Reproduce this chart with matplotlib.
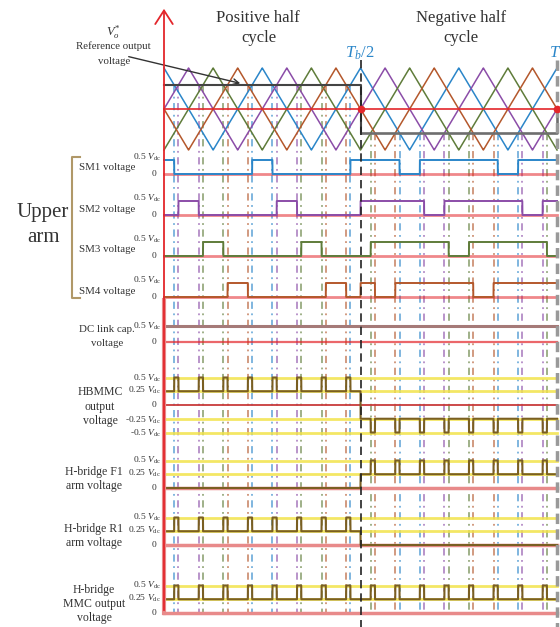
import numpy as np
import matplotlib
matplotlib.use('Agg')
import matplotlib.pyplot as plt
from matplotlib.transforms import Affine2D

plt.rcParams['font.family'] = ['Liberation Serif', 'DejaVu Serif']
plt.rcParams['mathtext.fontset'] = 'custom'
plt.rcParams['mathtext.rm'] = 'Liberation Serif'
plt.rcParams['mathtext.it'] = 'Liberation Serif:italic'

# time axis in electrical degrees over one fundamental cycle
T_END = 360.0
HALF = 180.0

# phase-shifted triangular carriers (peak position, deg) and reference levels
carrier_peak = [0.0, 22.5, 45.0, 67.5]
carrier_period = 90.0
ref_pos = 0.585
ref_neg = -0.585

# on-intervals of the upper arm submodules (deg)
sm1_on = [(0.0, 9.3), (80.7, 99.3), (170.7, 215.7), (234.3, 305.7), (324.3, 360.0)]
sm2_on = [(13.2, 31.8), (103.2, 121.8), (180.0, 238.2), (256.8, 328.2), (346.8, 360.0)]
sm3_on = [(35.7, 54.3), (125.7, 144.3), (189.3, 260.7), (279.3, 350.7)]
sm4_on = [(58.2, 76.8), (148.2, 166.8), (180.0, 193.2), (211.8, 283.2), (301.8, 360.0)]
sm_on = [sm1_on, sm2_on, sm3_on, sm4_on]
sm_labels = ['SM1 voltage', 'SM2 voltage', 'SM3 voltage', 'SM4 voltage']

blue = '#2B86C9'
purple = '#8B4DA8'
green = '#5F7C3A'
orange = '#B4582C'
sm_colors = [blue, purple, green, orange]
red = '#E3262B'
pink = '#E88A8A'
yellow = '#F2E34A'
wave = '#7A5F22'
txt = '#333333'

fig = plt.figure(figsize=(5.6, 6.27), dpi=100)
ax = fig.add_axes([0, 0, 1, 1])
ax.set_xlim(-150.2, 362.7)
ax.set_ylim(627, 0)
ax.axis('off')
# pixel coordinates, origin top-left, for labels and furniture
pix = Affine2D().scale(1 / 560, -1 / 627).translate(0, 1) + ax.transAxes

t = np.linspace(0, T_END, 14401)


def is_on(intervals):
    out = np.zeros_like(t)
    for a, b in intervals:
        out[(t >= a) & (t < b)] = 1.0
    if intervals[-1][1] >= T_END:
        out[-1] = 1.0
    return out


states = [is_on(iv) for iv in sm_on]
n_on = np.sum(states, axis=0)
v_hb = 0.5 - 0.25 * n_on
v_f1 = np.where(t < HALF, 0.0, -v_hb)
v_r1 = np.where(t < HALF, v_hb, 0.0)
v_mmc = np.abs(v_hb)

# ---- carriers and reference ----
MID, AMP = 109, 41
for peak, col in zip(carrier_peak, sm_colors):
    knots = np.arange(peak - carrier_period, T_END + carrier_period, carrier_period / 2)
    vals = np.where(np.arange(len(knots)) % 2 == 0, 1.0, -1.0)
    ax.plot(t, MID - AMP * np.interp(t, knots, vals), color=col, lw=1.1, zorder=3)
ax.plot([0, T_END], [MID, MID], color=red, lw=1.2, zorder=4)
ax.plot([0, HALF, HALF], [MID - AMP * ref_pos, MID - AMP * ref_pos, MID - AMP * ref_neg],
        color='#444444', lw=1.5, zorder=4)
ax.plot([HALF, T_END, T_END], [MID - AMP * ref_neg, MID - AMP * ref_neg, MID],
        color='#6E6E6E', lw=1.9, zorder=4)
ax.plot([HALF, T_END], [MID, MID], 'o', color=red, ms=4.5, zorder=6)

# ---- switching instants ----
dash = (0, (4, 2.5, 1, 2.5))
for iv, col in zip(sm_on, sm_colors):
    edges = sorted({e for ab in iv for e in ab} - {0.0, HALF, T_END})
    for e in edges:
        y0 = MID - AMP * (ref_pos if e < HALF else ref_neg)
        ax.plot([e, e], [y0, 612], color=col, lw=1.3, ls=dash, alpha=0.65, zorder=2)

ax.plot([HALF, HALF], [60, 627], color='#222222', lw=1.2, ls=(0, (5, 3)), zorder=5)
ax.plot([T_END, T_END], [60, 627], color='#999999', lw=2.5, ls=(0, (3, 1.5)), zorder=5)


def tick(y, s):
    ax.text(161, y, s, transform=pix, ha='right', va='center', fontsize=6.8, color=txt)


VDC = r'$V_{\rm dc}$'

# ---- submodule rows ----
sm_zero = [174, 215, 256, 297]
for z, st, col, lab in zip(sm_zero, states, sm_colors, sm_labels):
    ax.plot([0, T_END], [z, z], color=red, lw=2, alpha=0.55, zorder=3)
    ax.plot(t, z - 28 * 0.5 * st, color=col, lw=1.4, zorder=4)
    ax.text(107, z - 6, lab, transform=pix, ha='center', va='center', fontsize=7.8, color=txt)
    tick(z - 17, '0.5 ' + VDC)
    tick(z, '0  ')

# DC link capacitor
ax.plot([0, T_END], [342, 342], color=red, lw=1.6, alpha=0.7, zorder=3)
ax.plot([0, T_END], [326, 326], color='#A57A78', lw=2.2, zorder=3)
ax.text(107, 329, 'DC link cap.', transform=pix, ha='center', va='center', fontsize=7.8, color=txt)
ax.text(107, 344, 'voltage', transform=pix, ha='center', va='center', fontsize=7.8, color=txt)
tick(326, '0.5 ' + VDC)
tick(342, '0  ')

SC = 55


def level_row(z, levels, v):
    for lv in levels:
        ax.plot([0, T_END], [z - SC * lv] * 2, color=yellow, lw=2, alpha=0.85, zorder=3)
    ax.plot(t, z - SC * v, color=wave, lw=1.5, zorder=4)


# HBMMC output
ax.plot([0, T_END], [405, 405], color='#C83A3A', lw=1.3, zorder=3)
level_row(405, [0.5, 0.25, -0.25, -0.5], v_hb)
for s, y in zip(['HBMMC', 'output', 'voltage'], [392, 407, 421]):
    ax.text(100, y, s, transform=pix, ha='center', va='center', fontsize=8.5, color=txt)
tick(378, '0.5 ' + VDC)
tick(390, '0.25 ' + VDC)
tick(405, '0  ')
tick(420, '-0.25 ' + VDC)
tick(433, '-0.5 ' + VDC)

# H-bridge rows
hb_rows = [(488, v_f1, ['H-bridge F1', 'arm voltage']),
           (545, v_r1, ['H-bridge R1', 'arm voltage']),
           (613, v_mmc, ['H-bridge', 'MMC output', 'voltage'])]
for z, v, labs in hb_rows:
    ax.plot([0, T_END], [z, z], color=pink, lw=2.5, zorder=3)
    level_row(z, [0.5, 0.25], v)
    y0 = z - 16 if len(labs) == 2 else z - 23
    for i, s in enumerate(labs):
        ax.text(94, y0 + i * 14, s, transform=pix, ha='center', va='center', fontsize=8.5, color=txt)
    tick(z - 28, '0.5 ' + VDC)
    tick(z - 15, '0.25 ' + VDC)
    tick(z, '0  ')

# ---- frame, axis arrow and annotations ----
ax.plot([164, 164], [300, 613], color=pink, lw=3, transform=pix, zorder=6)
ax.annotate('', xy=(164, 6), xytext=(164, 613), xycoords=pix, textcoords=pix,
            arrowprops=dict(arrowstyle='->,head_length=0.7,head_width=0.45',
                            color=red, lw=1.3, mutation_scale=14), zorder=7)

ax.plot([80, 72, 72, 80], [157, 157, 298, 298], color='#B09868', lw=1.5, transform=pix)
ax.text(43, 212, 'Upper', transform=pix, ha='center', va='center', fontsize=15, color=txt)
ax.text(43, 237, 'arm', transform=pix, ha='center', va='center', fontsize=15, color=txt)

ax.text(113, 32, r'$V^{*}_{o}$', transform=pix, ha='center', va='center', fontsize=9, color=txt)
ax.text(113, 46, 'Reference output', transform=pix, ha='center', va='center', fontsize=7.8, color=txt)
ax.text(114, 61, 'voltage', transform=pix, ha='center', va='center', fontsize=7.8, color=txt)
ax.annotate('', xy=(243, 84), xytext=(126, 56), xycoords=pix, textcoords=pix,
            arrowprops=dict(arrowstyle='->', color='#333333', lw=1))

ax.text(258, 18, 'Positive half', transform=pix, ha='center', va='center', fontsize=12, color=txt)
ax.text(259, 38, 'cycle', transform=pix, ha='center', va='center', fontsize=12, color=txt)
ax.text(461, 18, 'Negative half', transform=pix, ha='center', va='center', fontsize=12, color=txt)
ax.text(461, 38, 'cycle', transform=pix, ha='center', va='center', fontsize=12, color=txt)
ax.text(360, 53, r'$T_b/2$', transform=pix, ha='center', va='center', fontsize=12, color=blue)
ax.text(549, 53, r'$T$', transform=pix, ha='left', va='center', fontsize=12, color=blue)

fig.savefig('out.png', dpi=100)
